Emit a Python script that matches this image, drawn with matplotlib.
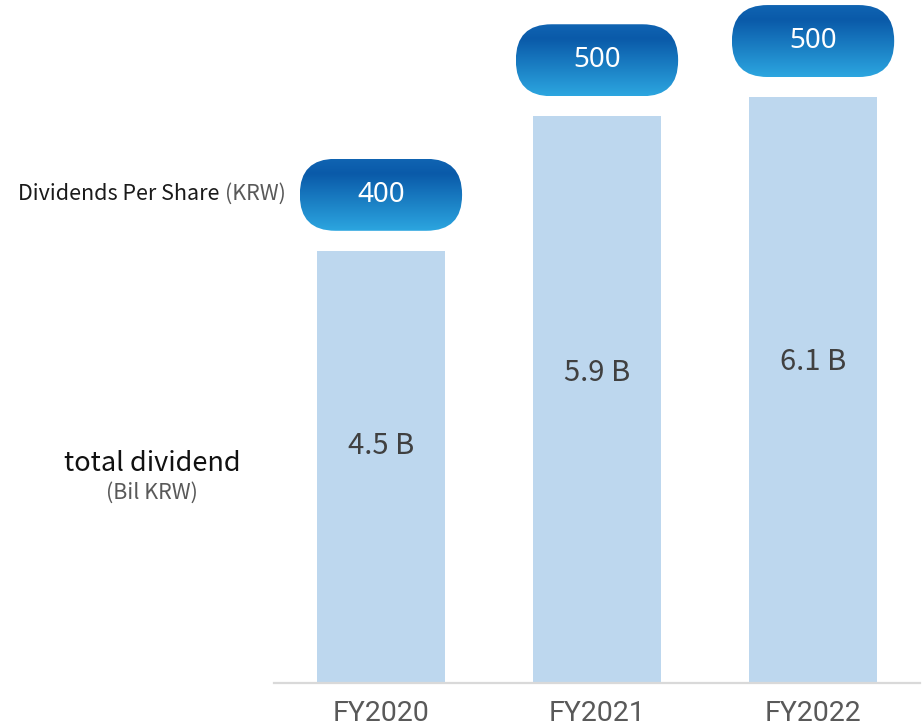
import numpy as np
import matplotlib
matplotlib.use("Agg")
import matplotlib.pyplot as plt
from matplotlib.patches import FancyBboxPatch
from matplotlib.colors import LinearSegmentedColormap

# data
years = ["FY2020", "FY2021", "FY2022"]
total_dividend = [4.5, 5.9, 6.1]        # billion KRW
dps = [400, 500, 500]                   # KRW per share
bar_labels = ["4.5 B", "5.9 B", "6.1 B"]

fig = plt.figure(figsize=(9.24, 7.27), dpi=100)
ax = fig.add_axes([274 / 924, 44 / 727, 646 / 924, 683 / 727])

x = np.arange(len(years))
ax.bar(x, total_dividend, width=0.59, color="#bdd7ee", zorder=2)

for s in ["top", "right", "left"]:
    ax.spines[s].set_visible(False)
ax.spines["bottom"].set_color("#d9d9d9")
ax.spines["bottom"].set_linewidth(1.6)
ax.set_yticks([])
ax.set_xticks(x)
ax.set_xticklabels(years, fontsize=20.5, color="#595959", family="Roboto")
ax.tick_params(axis="x", length=0, pad=12.5)

# value labels inside the bars
for xi, v, lab in zip(x, total_dividend, bar_labels):
    ax.text(xi, v * 0.547, lab, ha="center", va="center", fontsize=21,
            color="#404040", family="Noto Sans CJK KR", zorder=3)

# gradient pills with DPS on top of the bars
cmap = LinearSegmentedColormap.from_list(
    "pill", [(0, "#1064b2"), (0.2, "#0a5aa9"), (1, "#2ca6e0")])
grad = np.linspace(0, 1, 256).reshape(-1, 1)
pw, ph = 0.751, 0.749
aspect = 215.7 / 96.1
for xi, v, d in zip(x, total_dividend, dps):
    cy = v + 0.58
    box = FancyBboxPatch((xi - pw / 2, cy - ph / 2), pw, ph,
                         boxstyle="round,pad=0,rounding_size=0.165",
                         mutation_aspect=aspect, fc="none", ec="none", zorder=4)
    ax.add_patch(box)
    im = ax.imshow(grad, cmap=cmap, aspect="auto", origin="upper",
                   extent=(xi - pw / 2, xi + pw / 2, cy - ph / 2, cy + ph / 2),
                   zorder=4)
    im.set_clip_path(box)
    ax.text(xi, cy, str(d), ha="center", va="center", fontsize=20,
            color="white", family="Noto Sans", zorder=5)

ax.set_xlim(-0.495, 2.495)
ax.set_ylim(0, 7.107)

# left side captions
krw = fig.text(286 / 924, 1 - 194 / 727, "(KRW)", ha="right", va="center",
               fontsize=15.5, color="#595959", family="Noto Sans CJK KR")
ax.annotate("Dividends Per Share", xy=(0, 0.5), xycoords=krw,
            xytext=(-4, 0), textcoords="offset points", ha="right", va="center",
            fontsize=15.5, color="#1a1a1a", family="Noto Sans CJK KR",
            annotation_clip=False)

fig.text(152 / 924, 1 - 464 / 727, "total dividend", ha="center", va="center",
         fontsize=19.5, color="#111111", family="Noto Sans CJK KR")
fig.text(152 / 924, 1 - 493 / 727, "(Bil KRW)", ha="center", va="center",
         fontsize=15.5, color="#595959", family="Noto Sans CJK KR")

fig.savefig("out.png", dpi=100)
